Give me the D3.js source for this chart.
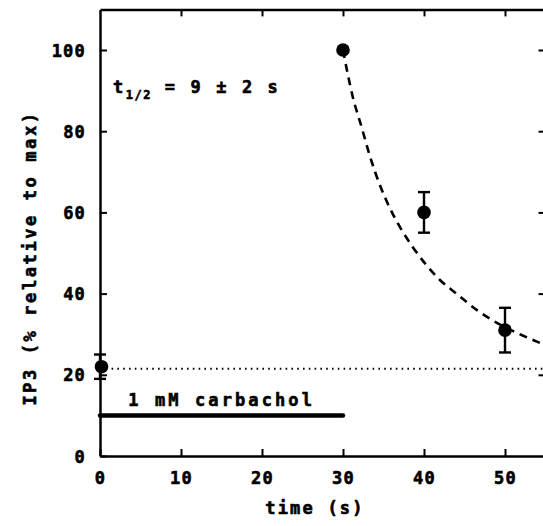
<!DOCTYPE html>
<html>
<head>
<meta charset="utf-8">
<script src="https://cdn.jsdelivr.net/npm/d3@7/dist/d3.min.js"></script>
<style>
  html, body { margin: 0; padding: 0; background: #fff; }
  svg text { font-family: "DejaVu Sans Mono", monospace; font-weight: bold; fill: #000; stroke: #000; stroke-width: 0.6px; }
</style>
</head>
<body>
<svg id="chart" width="543" height="526"></svg>
<script>
// ---- data ----
const timePoints = [0, 30, 40, 50];
const ip3Values  = [22, 100, 60, 31];
const ip3Errors  = [3, 0, 5, 5.5];

const fitTime   = [30, 31.2, 32.3, 33.3, 34.6, 35.8, 37, 38.6, 40.1, 42, 44, 46.5, 49, 51.5, 55];
const fitValues = [100, 88.5, 81, 74, 66.5, 61, 56.5, 51.5, 47.5, 43.3, 40, 36, 32.8, 30.3, 27.3];

const baselineValue = 21.5;
const stimulusTimes = [0, 30];
const stimulusLevel = 10;
const stimulusLabel = "1 mM carbachol";

const xTicks = [0, 10, 20, 30, 40, 50];
const yTicks = [0, 20, 40, 60, 80, 100];
const xDomain = [0, 55];
const yDomain = [0, 110];

// ---- chart ----
const svg = d3.select("#chart");
const x = d3.scaleLinear().domain(xDomain).range([100, 545.5]);
const y = d3.scaleLinear().domain(yDomain).range([456, 9.4]);

const axisStroke = 2.5;

// bottom axis (ticks inward)
const gx = svg.append("g").attr("transform", `translate(0,${y(0)})`)
  .call(d3.axisBottom(x).tickValues(xTicks).tickSizeInner(-7).tickSizeOuter(0).tickPadding(16).tickFormat(d3.format("d")));
// top axis
const gxt = svg.append("g").attr("transform", `translate(0,${y(yDomain[1])})`)
  .call(d3.axisTop(x).tickValues(xTicks.filter(d => d > 0)).tickSizeInner(-7).tickSizeOuter(0).tickFormat(""));
// left axis
const gy = svg.append("g").attr("transform", `translate(${x(0)},0)`)
  .call(d3.axisLeft(y).tickValues(yTicks).tickSizeInner(-7).tickSizeOuter(0).tickPadding(14).tickFormat(d3.format("d")));
// right axis
const gyr = svg.append("g").attr("transform", `translate(${x(xDomain[1])},0)`)
  .call(d3.axisRight(y).tickValues(yTicks.filter(d => d > 0)).tickSizeInner(-7).tickSizeOuter(0).tickFormat(""));

[gx, gxt, gy, gyr].forEach(g => {
  g.select(".domain").attr("stroke", "#000").attr("stroke-width", axisStroke);
  g.selectAll(".tick line").attr("stroke", "#000").attr("stroke-width", 2);
  g.selectAll(".tick text").style("font-size", "17px").style("font-family", "'DejaVu Sans Mono', monospace")
    .style("font-weight", "bold").style("letter-spacing", "1.2px").style("stroke", "#000").style("stroke-width", "0.6px");
});
gy.selectAll(".tick text").attr("dy", "0.36em");

// baseline dotted line
svg.append("line")
  .attr("x1", x(0)).attr("x2", x(xDomain[1]))
  .attr("y1", y(baselineValue)).attr("y2", y(baselineValue))
  .attr("stroke", "#000").attr("stroke-width", 2)
  .attr("stroke-dasharray", "1.6,4.2");

// stimulus bar
svg.append("line")
  .attr("x1", x(stimulusTimes[0])).attr("x2", x(stimulusTimes[1]))
  .attr("y1", y(stimulusLevel)).attr("y2", y(stimulusLevel))
  .attr("stroke", "#000").attr("stroke-width", 4.5).attr("stroke-linecap", "round");
svg.append("text")
  .attr("x", x(3.5)).attr("y", y(stimulusLevel) - 9)
  .style("font-size", "17px").style("letter-spacing", "3.1px")
  .text(stimulusLabel);

// fit curve (dashed)
const fitData = fitTime.map((t, i) => [t, fitValues[i]]);
svg.append("path")
  .datum(fitData)
  .attr("fill", "none").attr("stroke", "#000").attr("stroke-width", 2.6)
  .attr("stroke-dasharray", "8,6")
  .attr("d", d3.line().x(d => x(d[0])).y(d => y(d[1])).curve(d3.curveMonotoneX));

// error bars
const pts = timePoints.map((t, i) => ({t, v: ip3Values[i], e: ip3Errors[i]}));
const eb = svg.append("g").selectAll("g").data(pts.filter(d => d.e > 0)).join("g")
  .attr("stroke", "#000").attr("stroke-width", 2.4);
eb.append("line").attr("x1", d => x(d.t)).attr("x2", d => x(d.t))
  .attr("y1", d => y(d.v + d.e)).attr("y2", d => y(d.v - d.e));
eb.append("line").attr("x1", d => x(d.t) - 6).attr("x2", d => x(d.t) + 6)
  .attr("y1", d => y(d.v + d.e)).attr("y2", d => y(d.v + d.e));
eb.append("line").attr("x1", d => x(d.t) - 6).attr("x2", d => x(d.t) + 6)
  .attr("y1", d => y(d.v - d.e)).attr("y2", d => y(d.v - d.e));

// points
svg.append("g").selectAll("circle").data(pts).join("circle")
  .attr("cx", d => x(d.t) + (d.t === 0 ? 1.5 : 0)).attr("cy", d => y(d.v))
  .attr("r", 6.8).attr("fill", "#000");

// half-life annotation
const ann = svg.append("text").attr("x", 113).attr("y", 93).style("font-size", "17px").style("letter-spacing", "2.6px");
ann.append("tspan").text("t");
ann.append("tspan").attr("dy", 6).style("font-size", "12px").style("letter-spacing", "1.5px").text("1/2");
ann.append("tspan").attr("dy", -6).text(" = 9 \u00b1 2 s");

// axis titles
svg.append("text")
  .attr("text-anchor", "middle")
  .attr("x", 315).attr("y", 514)
  .style("font-size", "17px").style("letter-spacing", "2.2px")
  .text("time (s)");
svg.append("text")
  .attr("text-anchor", "middle")
  .attr("transform", `translate(36,${258}) rotate(-90)`)
  .style("font-size", "17px").style("letter-spacing", "2.6px")
  .text("IP3 (% relative to max)");
</script>
</body>
</html>
